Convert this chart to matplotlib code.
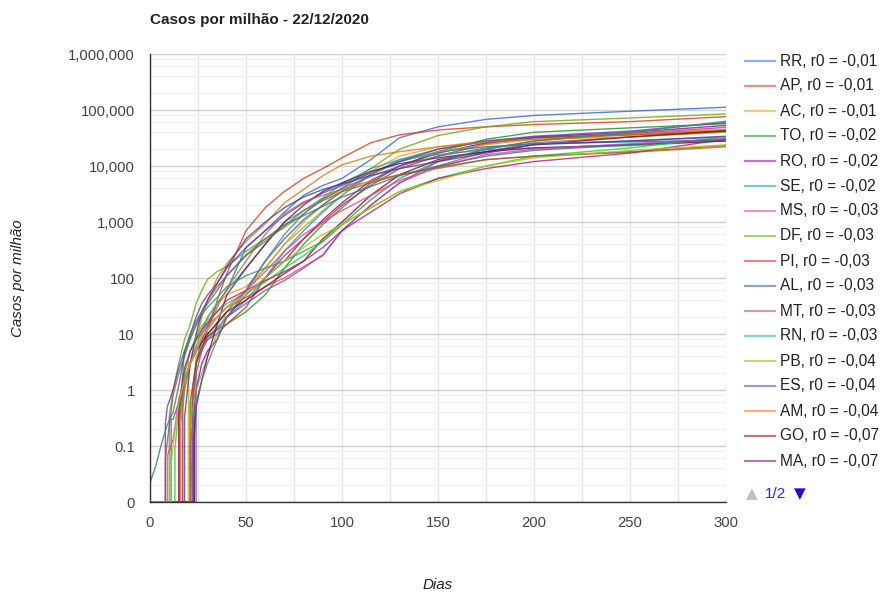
import numpy as np
import matplotlib
matplotlib.use("Agg")
import matplotlib.pyplot as plt
from matplotlib.lines import Line2D
from matplotlib.ticker import FixedLocator, FixedFormatter, NullFormatter

plt.rcParams['font.family'] = ['Liberation Sans', 'DejaVu Sans']

# dias de referência (após o primeiro caso)
dias = [3, 6, 9, 12, 15, 18, 21, 24, 27, 30, 35, 40, 50, 60, 70, 80, 90,
        100, 115, 130, 150, 175, 200, 250, 300]

# casos por milhão em cada dia de referência
RR = [0, 0, 0, 0, 0, 0, 0, 0, 8, 14, 35, 60, 350, 700, 1500, 3000, 4500, 6000, 13000, 32000, 50000, 68000, 80000, 95000, 112000]
AP = [0, 0, 0, 0, 0, 0, 0, 3, 5, 12, 40, 120, 700, 1800, 3500, 6000, 9000, 14000, 26000, 36000, 44000, 50000, 55000, 62000, 76000]
AC = [0, 0, 0, 0, 0, 0, 0, 5, 10, 20, 35, 50, 70, 150, 400, 1000, 2000, 4000, 8000, 15000, 22000, 28000, 32000, 38000, 45000]
TO = [0, 0, 0, 0, 0, 0, 0, 3, 6, 8, 10, 15, 25, 50, 150, 400, 900, 1800, 5000, 10000, 18000, 30000, 40000, 48000, 57000]
RO = [0, 0, 0, 0, 0, 0, 0, 1, 3, 5, 8, 20, 50, 100, 200, 500, 1100, 2200, 5500, 10000, 17000, 26000, 33000, 40000, 53000]
SE = [0, 0, 0, 0, 0, 1, 3, 5, 7, 9, 13, 20, 40, 100, 300, 700, 1500, 3000, 7000, 13000, 20000, 27000, 32000, 36000, 43000]
MS = [0, 0, 0, 0, 0, 2, 5, 8, 10, 15, 20, 30, 45, 70, 100, 160, 250, 700, 2000, 5000, 10000, 18000, 26000, 33000, 43000]
DF = [0, 0, 0, 1, 3, 8, 15, 35, 60, 95, 130, 160, 300, 500, 800, 1400, 2500, 4000, 9000, 20000, 35000, 50000, 62000, 72000, 85000]
PI = [0, 0, 0, 0, 0, 0, 0, 3, 6, 9, 12, 15, 30, 100, 250, 500, 1000, 2000, 4500, 9000, 15000, 25000, 32000, 36000, 42000]
AL = [0, 0, 0, 0.3, 0.6, 1.5, 3, 5, 8, 10, 15, 25, 60, 200, 500, 1100, 2000, 3500, 7000, 12000, 18000, 22000, 25000, 27000, 29000]
MT = [0, 0, 0, 0, 0, 0, 0, 2, 5, 8, 12, 20, 35, 60, 90, 150, 260, 700, 2000, 5000, 12000, 20000, 28000, 38000, 49000]
RN = [0, 0, 0, 0, 0, 1.5, 3, 6, 12, 20, 35, 60, 150, 400, 1000, 1600, 2700, 4800, 9000, 13000, 16000, 19500, 21000, 23000, 28000]
PB = [0, 0, 0, 0, 0, 0, 0, 1, 2, 4, 10, 25, 60, 150, 400, 800, 1600, 3000, 7000, 12000, 18000, 24000, 30000, 33000, 40000]
ES = [0, 0, 0.5, 1, 2.5, 5, 10, 20, 35, 50, 80, 150, 350, 700, 1300, 2200, 3300, 4500, 7500, 12000, 20000, 28000, 34000, 42000, 60000]
AM = [0, 0, 0, 0, 0, 1.2, 3, 8, 20, 40, 100, 180, 450, 930, 2200, 3800, 6700, 10500, 15000, 18000, 22000, 27000, 30000, 36000, 45000]
GO = [0, 0, 0, 0, 0, 1.5, 3, 5, 7, 10, 16, 25, 40, 70, 120, 200, 500, 1000, 3000, 7000, 13000, 18000, 24000, 33000, 42000]
MA = [0, 0, 0, 0, 0, 0, 0, 0.5, 1.5, 4, 15, 50, 150, 400, 1000, 2000, 3500, 5000, 8000, 11000, 14000, 18000, 21000, 24000, 28000]
SC = [0, 0, 0, 0, 0, 5, 9, 14, 22, 30, 45, 70, 110, 150, 200, 300, 450, 900, 2500, 6000, 12000, 20000, 28000, 40000, 63000]
PA = [0, 0, 0, 0, 0, 0, 0, 0.6, 1.5, 3, 8, 20, 60, 200, 600, 1400, 2600, 4000, 6500, 10000, 15000, 21000, 25000, 28000, 33000]
CE = [0, 0, 0, 0, 0, 0, 3, 10, 25, 40, 80, 160, 500, 1000, 1800, 2800, 3800, 4800, 6800, 9000, 12000, 17000, 24000, 28000, 34000]
PE = [0, 0, 0, 0, 0, 1.5, 3, 5, 8, 12, 30, 65, 200, 600, 1400, 2300, 3000, 3800, 5400, 7000, 9000, 13000, 15000, 17500, 22000]
RS = [0, 0, 0, 0, 0.5, 2, 5, 9, 14, 18, 25, 35, 55, 85, 150, 250, 450, 900, 1800, 3500, 6000, 10000, 15000, 21000, 33000]
PR = [0, 0, 0, 0, 0, 2.5, 5, 8, 12, 16, 25, 40, 60, 90, 130, 200, 350, 700, 1500, 3200, 6000, 9000, 12000, 17000, 30000]
BA = [0, 0, 0, 0.13, 0.7, 1.6, 3, 5, 8, 12, 20, 30, 60, 130, 300, 600, 1000, 1600, 3000, 5500, 9500, 16000, 20000, 25000, 31000]
RJ = [0, 0, 0.12, 0.8, 2, 4, 8, 15, 25, 40, 70, 110, 250, 450, 850, 1600, 2400, 3500, 5000, 7000, 9500, 13000, 15000, 18000, 23000]
MG = [0, 0, 0, 0.1, 0.6, 1.5, 3, 5, 9, 12, 20, 30, 50, 100, 200, 350, 600, 900, 1800, 3500, 5500, 10000, 14000, 19000, 24000]
SP = [0.044, 0.11, 0.24, 0.4, 1.2, 4.5, 10, 17, 25, 35, 60, 110, 260, 500, 900, 1300, 1900, 2800, 4300, 6700, 10000, 15000, 19000, 24000, 30000]

estados = ["RR", "AP", "AC", "TO", "RO", "SE", "MS", "DF", "PI", "AL", "MT", "RN",
           "PB", "ES", "AM", "GO", "MA", "SC", "PA", "CE", "PE", "RS", "PR", "BA",
           "RJ", "MG", "SP"]
series = [RR, AP, AC, TO, RO, SE, MS, DF, PI, AL, MT, RN, PB, ES, AM, GO, MA,
          SC, PA, CE, PE, RS, PR, BA, RJ, MG, SP]
# dia do primeiro caso e valor nesse dia
inicio = [24, 23, 20, 21, 23, 17, 17, 10, 22, 11, 22, 15, 21, 8, 16, 15, 23,
          15, 21, 18, 15, 13, 15, 9, 8, 11, 0]
primeiro = [3.2, 1.16, 3.3, 0.63, 0.56, 0.43, 0.7, 0.33, 0.9, 0.3, 0.57, 0.28,
            0.25, 0.25, 0.24, 0.42, 0.14, 0.28, 0.11, 0.33, 0.2, 0.088, 0.5,
            0.067, 0.058, 0.048, 0.022]
r0 = ["-0,01", "-0,01", "-0,01", "-0,02", "-0,02", "-0,02", "-0,03", "-0,03",
      "-0,03", "-0,03", "-0,03", "-0,03", "-0,04", "-0,04", "-0,04", "-0,07", "-0,07"]

cores = ['#3366cc', '#dc3912', '#ff9900', '#109618', '#990099', '#0099c6',
         '#dd4477', '#66aa00', '#b82e2e', '#316395', '#994499', '#22aa99',
         '#aaaa11', '#6633cc', '#e67300', '#8b0707', '#651067', '#329262',
         '#5574a6', '#3b3eac', '#b77322', '#16d620', '#b91383', '#f4359e',
         '#9c5935', '#a9c413', '#2a778d']

PISO = 0.01  # onde o "0" fica no eixo log

fig = plt.figure(figsize=(8.8, 5.92), dpi=100)
ax = fig.add_axes([150/880, 1-502/592, 576/880, 448/592])

for i, est in enumerate(estados):
    d0 = inicio[i]
    xs = [0, d0, d0] + [d for d in dias if d > d0]
    ys = [0, 0, primeiro[i]] + [v for d, v in zip(dias, series[i]) if d > d0]
    ys = np.where(np.array(ys) > 0, ys, PISO)
    ax.plot(xs, ys, color=cores[i], lw=1.0, alpha=0.8, zorder=3)

ax.set_yscale('log')
ax.set_ylim(PISO, 1e6)
ax.set_xlim(0, 300)

maj = [10.0**k for k in range(-2, 7)]
ax.yaxis.set_major_locator(FixedLocator(maj))
ax.yaxis.set_major_formatter(FixedFormatter(["0", "0.1", "1", "10", "100", "1,000",
                                             "10,000", "100,000", "1,000,000"]))
mins = [m * 10.0**k for k in range(-2, 6) for m in (2, 4, 6, 8)]
ax.yaxis.set_minor_locator(FixedLocator(mins))
ax.yaxis.set_minor_formatter(NullFormatter())
ax.set_xticks(range(0, 301, 50))
ax.set_xticks(range(25, 300, 50), minor=True)

ax.grid(True, which='major', axis='y', color='#d0d0d0', lw=1.0, zorder=0)
ax.grid(True, which='minor', axis='y', color='#efefef', lw=1.0, zorder=0)
ax.grid(True, which='both', axis='x', color='#e4e4e4', lw=1.0, zorder=0)

ax.tick_params(which='both', length=0, labelsize=10.7, labelcolor='#444444')
ax.tick_params(axis='y', pad=11)
ax.tick_params(axis='x', pad=10)
for s in ['top', 'right']:
    ax.spines[s].set_visible(False)
for s in ['left', 'bottom']:
    ax.spines[s].set_color('#333333')
    ax.spines[s].set_linewidth(1.0)
    ax.spines[s].set_zorder(4)

fig.text(150/880, 1-20/592, "Casos por milhão - 22/12/2020", fontsize=11,
         fontweight='bold', color='#222222', ha='left', va='center')
fig.text(18/880, 1-278/592, "Casos por milhão", fontsize=10.9, style='italic',
         color='#222222', rotation=90, ha='center', va='center')
fig.text(438/880, 1-585/592, "Dias", fontsize=10.9, style='italic',
         color='#222222', ha='center', va='center')

# legenda (página 1 de 2)
for i in range(len(r0)):
    yy = 1 - (61 + 25*i)/592
    fig.add_artist(Line2D([745/880, 775/880], [yy, yy], transform=fig.transFigure,
                          color=cores[i], lw=1.6, alpha=0.55))
    fig.text(780/880, yy, f"{estados[i]}, r0 = {r0[i]}", fontsize=11.2,
             color='#222222', ha='left', va='center')

yp = 1 - 494/592
fig.text(752/880, yp, "▲", fontsize=11, color='#c0c0c0', ha='center', va='center',
         family='DejaVu Sans')
fig.text(775/880, yp, "1/2", fontsize=11, color='#3a1fcc', ha='center', va='center')
fig.text(800/880, yp, "▼", fontsize=11, color='#3300cc', ha='center', va='center',
         family='DejaVu Sans')

fig.savefig("out.png", dpi=100)
